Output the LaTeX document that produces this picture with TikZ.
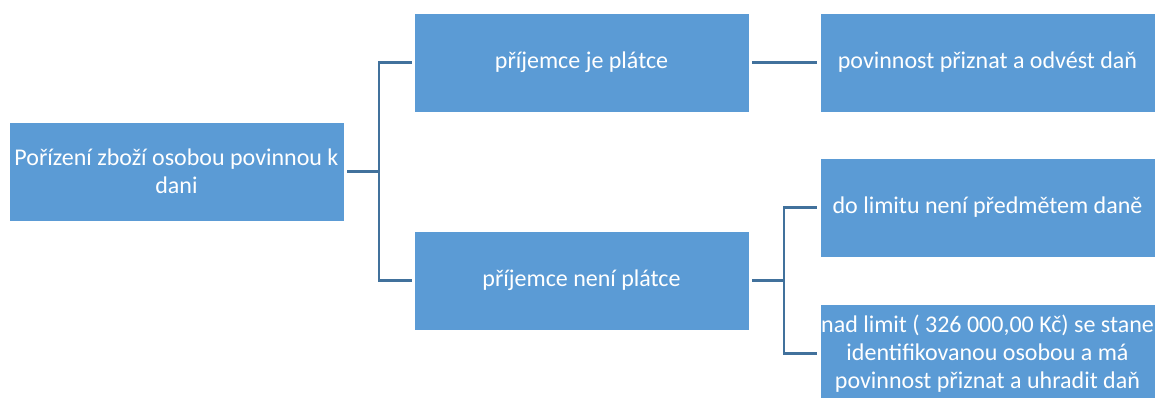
\documentclass[tikz,border=0pt]{standalone}
\usepackage{fontspec}
\setmainfont{Carlito}
\begin{document}
\begin{tikzpicture}[x=1pt,y=-1pt,
  box/.style={rectangle, fill=boxblue, draw=white, line width=0.6pt, minimum width=335pt, minimum height=99pt, inner sep=0pt, text=white, align=center, font=\fontsize{24}{28}\selectfont},
  conn/.style={draw=lineblue, line width=2.2pt}]
\definecolor{boxblue}{HTML}{5B9BD5}
\definecolor{lineblue}{HTML}{41719C}
\useasboundingbox (0,0) rectangle (1157,397);
\clip (0,0) rectangle (1157,397);
\node[box] (A) at (176.5,171.5) {Pořízení zboží osobou povinnou k\\dani};
\node[box] (B1) at (581.5,62.5) {příjemce je plátce};
\node[box] (B2) at (581.5,280.5) {příjemce není plátce};
\node[box] (C1) at (987.5,62.5) {povinnost přiznat a odvést daň};
\node[box] (C2) at (987.5,207.5) {do limitu není předmětem daně};
\node[box] (C3) at (987.5,353.5) {nad limit ( 326 000,00 Kč) se stane\\identifikovanou osobou a má\\povinnost přiznat a uhradit daň};
\coordinate (j1) at (379,171.5);
\coordinate (j2) at (784,280.5);
\draw[conn] ([xshift=3pt]A.east) -- (j1);
\draw[conn] ([xshift=-2pt]B1.west) -| (j1) |- ([xshift=-2pt]B2.west);
\draw[conn] ([xshift=3pt]B1.east) -- ([xshift=-3pt]C1.west);
\draw[conn] ([xshift=3pt]B2.east) -- (j2);
\draw[conn] ([xshift=-3pt]C2.west) -| (j2) |- ([xshift=-3pt]C3.west);
\end{tikzpicture}
\end{document}
